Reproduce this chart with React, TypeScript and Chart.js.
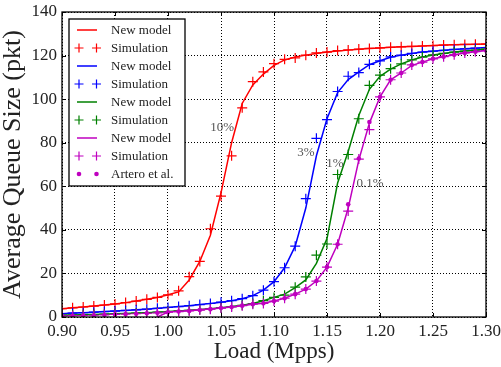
import React, { useEffect, useRef } from 'react';
import { Chart, registerables } from 'chart.js';

Chart.register(...registerables);

// ---- data ----
const loads = [
  0.90, 0.91, 0.92, 0.93, 0.94, 0.95, 0.96, 0.97, 0.98, 0.99,
  1.00, 1.01, 1.02, 1.03, 1.04, 1.05, 1.06, 1.07, 1.08, 1.09,
  1.10, 1.11, 1.12, 1.13, 1.14, 1.15, 1.16, 1.17, 1.18, 1.19,
  1.20, 1.21, 1.22, 1.23, 1.24, 1.25, 1.26, 1.27, 1.28, 1.29, 1.30,
];

const redModel = [
  3.8, 4.2, 4.6, 5.0, 5.5, 6.0, 6.6, 7.3, 8.1, 9.0,
  10.2, 11.5, 17.0, 25.5, 37.5, 57.0, 80.0, 98.0, 106.5, 111.5,
  115.5, 118.0, 119.3, 120.2, 121.0, 121.6, 122.1, 122.5, 122.9, 123.2,
  123.5, 123.8, 124.0, 124.2, 124.4, 124.6, 124.8, 125.0, 125.1, 125.2, 125.3,
];
const redSim = [
  3.8, 4.2, 4.6, 5.0, 5.5, 6.0, 6.6, 7.3, 8.1, 9.0,
  10.2, 12.0, 18.5, 25.5, 40.5, 55.5, 74.0, 96.0, 108.0, 112.5,
  116.3, 118.3, 118.9, 120.2, 121.2, 121.6, 122.3, 122.6, 123.0, 123.3,
  123.5, 123.8, 124.0, 124.2, 124.4, 124.6, 124.8, 125.0, 125.1, 125.2, 125.3,
];

const blueModel = [
  1.5, 1.8, 2.0, 2.2, 2.5, 2.7, 3.0, 3.3, 3.6, 4.0,
  4.4, 4.8, 5.2, 5.7, 6.2, 6.8, 7.5, 8.4, 9.8, 12.3,
  16.2, 22.6, 32.5, 50.0, 74.0, 91.0, 103.0, 109.0, 112.5, 115.8,
  117.6, 119.2, 120.2, 121.0, 121.6, 122.0, 122.4, 122.8, 123.1, 123.4, 123.7,
];
const blueSim = [
  1.5, 1.8, 2.0, 2.2, 2.5, 2.7, 3.0, 3.3, 3.6, 4.0,
  4.4, 4.8, 5.2, 5.7, 6.2, 6.8, 7.5, 8.4, 9.8, 12.3,
  16.2, 22.6, 32.5, 54.3, 82.0, 90.6, 103.5, 110.5, 112.2, 116.0,
  117.6, 119.4, 120.2, 121.0, 121.6, 122.0, 122.4, 122.8, 123.1, 123.4, 123.7,
];

const greenModel = [
  0.8, 0.9, 1.0, 1.1, 1.3, 1.5, 1.6, 1.8, 2.0, 2.2,
  2.5, 2.8, 3.1, 3.4, 3.8, 4.3, 4.8, 5.4, 6.2, 7.5,
  9.0, 10.5, 13.5, 17.0, 24.6, 36.0, 61.5, 76.0, 92.5, 104.5,
  110.5, 113.8, 116.2, 118.0, 119.3, 120.3, 121.0, 121.6, 122.1, 122.5, 123.0,
];
const greenSim = [
  0.8, 0.9, 1.0, 1.1, 1.3, 1.5, 1.6, 1.8, 2.0, 2.2,
  2.5, 2.8, 3.1, 3.4, 3.8, 4.3, 4.8, 5.4, 6.2, 7.5,
  9.0, 10.0, 13.7, 18.4, 28.4, 33.5, 65.4, 74.6, 91.0, 106.3,
  111.0, 114.0, 116.2, 118.0, 119.3, 120.3, 121.0, 121.6, 122.1, 122.5, 123.0,
];

const magentaModel = [
  null, null, null, null, null, null, null, null, null, 0.0,
  2.3, 2.6, 2.9, 3.3, 3.7, 4.1, 4.6, 5.2, 5.8, 6.3,
  7.3, 8.6, 10.5, 12.8, 16.5, 22.9, 33.4, 50.0, 72.0, 89.0,
  101.0, 108.9, 112.0, 115.5, 117.0, 118.5, 119.5, 120.4, 121.2, 121.8, 122.3,
];
const magentaSim = [
  0.5, 0.6, 0.7, 0.8, 1.0, 1.2, 1.3, 1.5, 1.7, 1.9,
  2.2, 2.5, 2.8, 3.2, 3.6, 4.1, 4.6, 5.2, 5.9, 6.2,
  7.3, 8.6, 10.5, 12.8, 16.5, 22.9, 33.4, 48.6, 72.5, 86.0,
  101.0, 108.9, 112.0, 115.7, 117.0, 118.5, 119.5, 120.4, 121.2, 121.8, 122.3,
];
const arteroData = [
  0.5, 0.6, 0.7, 0.8, 1.0, 1.2, 1.3, 1.5, 1.7, 1.9,
  2.2, 2.5, 2.8, 3.2, 3.6, 4.1, 4.6, 5.2, 5.9, 6.3,
  7.3, 8.6, 10.5, 12.8, 16.5, 22.9, 33.4, 51.7, 72.7, 89.5,
  101.0, 108.9, 112.0, 115.7, 117.0, 118.5, 119.5, 120.4, 121.2, 121.8, 122.3,
];

const xTicks = [0.9, 0.95, 1.0, 1.05, 1.1, 1.15, 1.2, 1.25, 1.3];
const yTicks = [0, 20, 40, 60, 80, 100, 120, 140];

const legendLabels = [
  'New model', 'Simulation', 'New model', 'Simulation', 'New model',
  'Simulation', 'New model', 'Simulation', 'Artero et al.',
];

const annotationTexts = ['10%', '3%', '1%', '0.1%'];
const annotationX = [1.051, 1.130, 1.1575, 1.1906];
const annotationY = [86.9, 75.5, 70.4, 61.3];

// ---- styles ----
const RED = '#ff0000';
const BLUE = '#0000ff';
const GREEN = '#008000';
const MAGENTA = '#bf00bf';
const SERIF = '"Liberation Serif", "Times New Roman", serif';

type Kind = 'line' | 'cross' | 'dot';
const legendKinds: Kind[] = ['line', 'cross', 'line', 'cross', 'line', 'cross', 'line', 'cross', 'dot'];
const legendColors = [RED, RED, BLUE, BLUE, GREEN, GREEN, MAGENTA, MAGENTA, MAGENTA];

const pts = (vals: (number | null)[]) => loads.map((x, i) => ({ x, y: vals[i] }));

const modelDs = (label: string, vals: (number | null)[], color: string, order: number) => ({
  label,
  data: pts(vals),
  borderColor: color,
  backgroundColor: color,
  borderWidth: 1.5,
  pointRadius: 0,
  tension: 0,
  order,
});
const simDs = (label: string, vals: (number | null)[], color: string, order: number) => ({
  label,
  data: pts(vals),
  showLine: false,
  borderColor: color,
  backgroundColor: color,
  pointStyle: 'cross',
  pointRadius: 5,
  pointBorderWidth: 1.2,
  pointBorderColor: color,
  order,
});

const framePlugin = {
  id: 'frameAndExtras',
  afterDraw(chart: any) {
    const { ctx, chartArea: a, scales } = chart;
    const xs = scales.x;
    const ys = scales.y;
    ctx.save();
    // frame
    ctx.strokeStyle = '#000';
    ctx.lineWidth = 1.3;
    ctx.strokeRect(a.left, a.top, a.right - a.left, a.bottom - a.top);
    // inward ticks
    ctx.lineWidth = 1;
    ctx.beginPath();
    xTicks.forEach((v) => {
      const px = Math.round(xs.getPixelForValue(v)) + 0.5;
      ctx.moveTo(px, a.bottom);
      ctx.lineTo(px, a.bottom - 4);
      ctx.moveTo(px, a.top);
      ctx.lineTo(px, a.top + 4);
    });
    yTicks.forEach((v) => {
      const py = Math.round(ys.getPixelForValue(v)) + 0.5;
      ctx.moveTo(a.left, py);
      ctx.lineTo(a.left + 4, py);
      ctx.moveTo(a.right, py);
      ctx.lineTo(a.right - 4, py);
    });
    ctx.stroke();

    // annotations
    ctx.fillStyle = '#555';
    ctx.font = `13px ${SERIF}`;
    ctx.textAlign = 'center';
    ctx.textBaseline = 'middle';
    annotationTexts.forEach((t, i) => {
      ctx.fillText(t, xs.getPixelForValue(annotationX[i]), ys.getPixelForValue(annotationY[i]));
    });

    // legend
    const bx = a.left + 7;
    const by = a.top + 7;
    const bw = 116;
    const bh = 167;
    ctx.fillStyle = '#fff';
    ctx.fillRect(bx, by, bw, bh);
    ctx.strokeStyle = '#000';
    ctx.lineWidth = 1.3;
    ctx.strokeRect(bx, by, bw, bh);
    ctx.font = `13px ${SERIF}`;
    ctx.textAlign = 'left';
    ctx.textBaseline = 'middle';
    legendLabels.forEach((label, i) => {
      const cy = by + 11 + i * 18;
      const color = legendColors[i];
      const kind = legendKinds[i];
      ctx.strokeStyle = color;
      ctx.fillStyle = color;
      if (kind === 'line') {
        ctx.lineWidth = 1.5;
        ctx.beginPath();
        ctx.moveTo(bx + 8, cy);
        ctx.lineTo(bx + 28, cy);
        ctx.stroke();
      } else if (kind === 'cross') {
        ctx.lineWidth = 1.2;
        [bx + 10, bx + 27.5].forEach((mx) => {
          ctx.beginPath();
          ctx.moveTo(mx - 4.5, cy);
          ctx.lineTo(mx + 4.5, cy);
          ctx.moveTo(mx, cy - 4.5);
          ctx.lineTo(mx, cy + 4.5);
          ctx.stroke();
        });
      } else {
        [bx + 10, bx + 27.5].forEach((mx) => {
          ctx.beginPath();
          ctx.arc(mx, cy, 2.3, 0, Math.PI * 2);
          ctx.fill();
        });
      }
      ctx.fillStyle = '#222';
      ctx.fillText(label, bx + 42, cy + 0.5);
    });
    ctx.restore();
  },
};

export default function App() {
  const ref = useRef<HTMLCanvasElement>(null);
  useEffect(() => {
    const canvas = ref.current;
    if (!canvas) return;
    const chart = new Chart(canvas, {
      type: 'line',
      data: {
        datasets: [
          modelDs('New model', redModel, RED, 8),
          simDs('Simulation', redSim, RED, 7),
          modelDs('New model', blueModel, BLUE, 6),
          simDs('Simulation', blueSim, BLUE, 5),
          modelDs('New model', greenModel, GREEN, 4),
          simDs('Simulation', greenSim, GREEN, 3),
          modelDs('New model', magentaModel, MAGENTA, 2),
          simDs('Simulation', magentaSim, MAGENTA, 1),
          {
            label: 'Artero et al.',
            data: pts(arteroData),
            showLine: false,
            pointStyle: 'circle',
            pointRadius: 2.3,
            pointBorderWidth: 0,
            backgroundColor: MAGENTA,
            borderColor: MAGENTA,
            order: 0,
          },
        ] as any,
      },
      options: {
        animation: false,
        responsive: false,
        maintainAspectRatio: false,
        layout: { padding: { top: 12, right: 15, left: 0, bottom: 0 } },
        plugins: {
          legend: { display: false },
          tooltip: { enabled: false },
        },
        scales: {
          x: {
            type: 'linear',
            min: 0.9,
            max: 1.3,
            afterBuildTicks: (scale: any) => {
              scale.ticks = xTicks.map((v) => ({ value: v }));
            },
            afterFit: (scale: any) => {
              scale.height = 50;
              scale.paddingLeft = 0;
              scale.paddingRight = 0;
            },
            ticks: {
              callback: (v: any) => Number(v).toFixed(2),
              font: { family: SERIF, size: 17 },
              color: '#222',
              padding: 4,
              maxRotation: 0,
              autoSkip: false,
            },
            grid: { color: '#000', lineWidth: 1, drawTicks: false },
            border: { display: false, dash: [1, 2] },
            title: {
              display: true,
              text: 'Load (Mpps)',
              font: { family: SERIF, size: 23, lineHeight: 1.2 },
              color: '#222',
              padding: { top: 0, bottom: 1 },
            },
          },
          y: {
            type: 'linear',
            min: 0,
            max: 140,
            afterBuildTicks: (scale: any) => {
              scale.ticks = yTicks.map((v) => ({ value: v }));
            },
            afterFit: (scale: any) => {
              scale.width = 62;
              scale.paddingTop = 0;
              scale.paddingBottom = 0;
            },
            ticks: {
              font: { family: SERIF, size: 17 },
              color: '#222',
              padding: 5,
              autoSkip: false,
            },
            grid: { color: '#000', lineWidth: 1, drawTicks: false },
            border: { display: false, dash: [1, 2] },
            title: {
              display: true,
              text: 'Average Queue Size (pkt)',
              font: { family: SERIF, size: 26, lineHeight: 1.04 },
              color: '#222',
              padding: { top: 0, bottom: 0 },
            },
          },
        },
      },
      plugins: [framePlugin],
    });
    return () => chart.destroy();
  }, []);

  return (
    <div style={{ position: 'fixed', left: 0, top: 0, width: 501, height: 367, background: '#fff' }}>
      <canvas ref={ref} width={501} height={367} style={{ display: 'block', width: 501, height: 367 }} />
    </div>
  );
}
